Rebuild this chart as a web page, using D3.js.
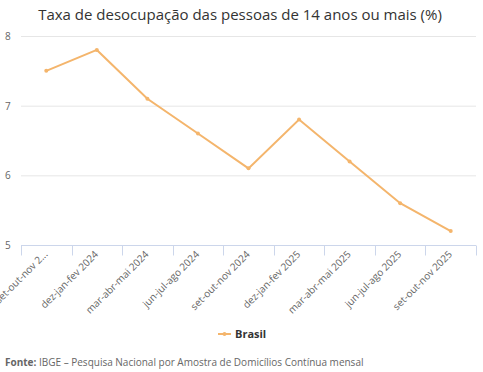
<!DOCTYPE html>
<html>
<head>
<meta charset="utf-8">
<script src="https://cdn.jsdelivr.net/npm/d3@7"></script>
<style>
  body { margin: 0; background: #fff; }
  svg { display: block; font-family: "Open Sans", "DejaVu Sans", sans-serif; }
</style>
</head>
<body>
<div id="chart"></div>
<script>
const categories = [
  "set-out-nov 2023", "dez-jan-fev 2024", "mar-abr-mai 2024", "jun-jul-ago 2024",
  "set-out-nov 2024", "dez-jan-fev 2025", "mar-abr-mai 2025", "jun-jul-ago 2025",
  "set-out-nov 2025"
];
const brasil = [7.5, 7.8, 7.1, 6.6, 6.1, 6.8, 6.2, 5.6, 5.2];
const yTicks = [5, 6, 7, 8];

const width = 483;
const height = 372;
const margin = { top: 36, right: 7, bottom: 127, left: 21 };
const lineColor = "#f4b56c";

const svg = d3.select("#chart")
  .append("svg")
  .attr("width", width)
  .attr("height", height);

const x = d3.scaleBand()
  .domain(categories)
  .range([margin.left, width - margin.right]);

const y = d3.scaleLinear()
  .domain([5, 8])
  .range([height - margin.bottom, margin.top]);

// title
svg.append("text")
  .attr("x", 240)
  .attr("y", 20)
  .attr("text-anchor", "middle")
  .attr("font-size", 15)
  .attr("fill", "#333")
  .text("Taxa de desocupação das pessoas de 14 anos ou mais (%)");

// grid lines
svg.append("g")
  .selectAll("line")
  .data(yTicks.filter(d => d !== 5))
  .join("line")
  .attr("x1", margin.left)
  .attr("x2", width - margin.right)
  .attr("y1", d => y(d) + 0.5)
  .attr("y2", d => y(d) + 0.5)
  .attr("stroke", "#e6e6e6");

// y labels
svg.append("g")
  .selectAll("text")
  .data(yTicks)
  .join("text")
  .attr("x", 5)
  .attr("y", d => y(d) + 4)
  .attr("font-size", 10)
  .attr("fill", "#666")
  .text(d => d);

// x axis
const xAxis = d3.axisBottom(x).tickSize(10).tickFormat("");
const gx = svg.append("g")
  .attr("transform", `translate(0,${y(5) + 0.5})`)
  .call(xAxis);
gx.select(".domain").attr("stroke", "#ccd6eb").attr("d", `M${margin.left},0H${width - margin.right}`);
gx.selectAll(".tick line").remove();
const bounds = categories.map(c => x(c)).concat([width - margin.right]);
gx.selectAll(".bound")
  .data(bounds)
  .join("line")
  .attr("class", "bound")
  .attr("x1", d => Math.round(d) + 0.5)
  .attr("x2", d => Math.round(d) + 0.5)
  .attr("y1", 0)
  .attr("y2", 10)
  .attr("stroke", "#ccd6eb");

const labels = svg.append("g")
  .selectAll("text")
  .data(categories)
  .join("text")
  .attr("font-size", 10)
  .attr("fill", "#666")
  .attr("text-anchor", "end")
  .attr("transform", d => `translate(${x(d) + x.bandwidth() / 2 + 2},${y(5) + 10}) rotate(-45)`)
  .text(d => d);

// truncate labels that run past the left edge
labels.each(function(d) {
  const el = d3.select(this);
  const maxW = (x(d) + x.bandwidth() / 2 + 6) * Math.SQRT2;
  if (this.getComputedTextLength() > maxW) {
    let t = d;
    while (t.length > 1) {
      t = t.slice(0, -1);
      el.text(t + "...");
      if (this.getComputedTextLength() <= maxW) break;
    }
  }
});

// line
const line = d3.line()
  .x((d, i) => x(categories[i]) + x.bandwidth() / 2)
  .y(d => y(d));

svg.append("path")
  .datum(brasil)
  .attr("fill", "none")
  .attr("stroke", lineColor)
  .attr("stroke-width", 2)
  .attr("d", line);

svg.append("g")
  .selectAll("circle")
  .data(brasil)
  .join("circle")
  .attr("cx", (d, i) => x(categories[i]) + x.bandwidth() / 2)
  .attr("cy", d => y(d))
  .attr("r", 2)
  .attr("fill", lineColor);

// legend
const lg = svg.append("g").attr("transform", "translate(218,334)");
lg.append("line")
  .attr("x1", 0).attr("x2", 13)
  .attr("stroke", lineColor).attr("stroke-width", 2);
lg.append("circle").attr("cx", 6.5).attr("r", 2).attr("fill", lineColor);
lg.append("text")
  .attr("x", 17)
  .attr("y", 4)
  .attr("font-size", 11)
  .attr("font-weight", "bold")
  .attr("fill", "#333")
  .text("Brasil");

// source
const src = svg.append("text")
  .attr("x", 5)
  .attr("y", 366)
  .attr("font-size", 10)
  .attr("fill", "#666");
src.append("tspan").attr("font-weight", "bold").text("Fonte: ");
src.append("tspan").text("IBGE – Pesquisa Nacional por Amostra de Domicílios Contínua mensal");
</script>
</body>
</html>
